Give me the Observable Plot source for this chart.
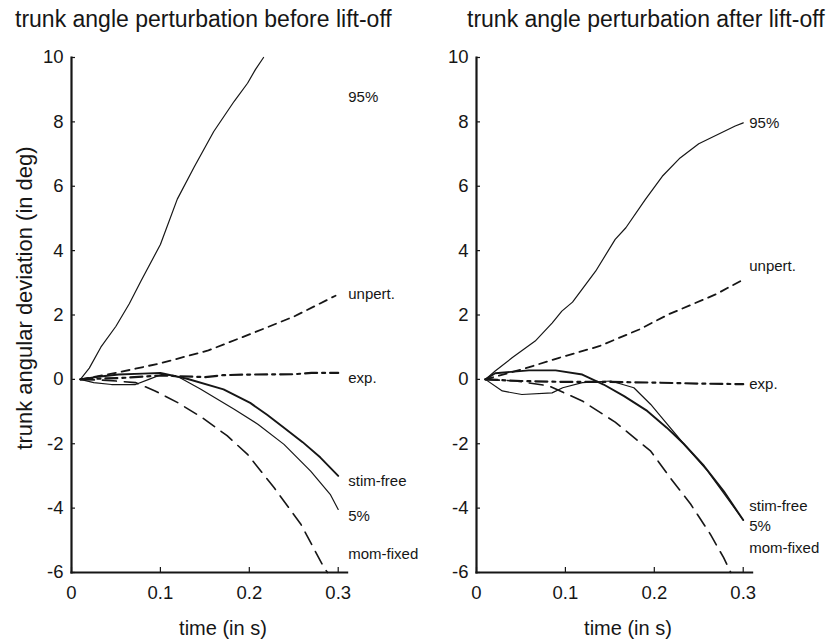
<!DOCTYPE html>
<html><head><meta charset="utf-8">
<script src="https://cdn.jsdelivr.net/npm/d3@7"></script>
<script src="https://cdn.jsdelivr.net/npm/@observablehq/plot@0.6"></script>
<style>
body{margin:0;background:#fff;}
#wrap{position:relative;width:835px;height:644px;overflow:hidden;background:#fff;font-family:"Liberation Sans",Arial,Helvetica,sans-serif;color:#161616;}
#wrap > svg{position:absolute;top:0;left:0;}
.t{position:absolute;white-space:nowrap;line-height:1;}
</style></head><body><div id="wrap"></div>
<script>
// ---- data ----
const seriesNames = ["95%", "unpert.", "exp.", "stim-free", "5%", "mom-fixed"];
const panels = ["before", "after"];
const xTicks = [0, 0.1, 0.2, 0.3];
const yTicks = [-6, -4, -2, 0, 2, 4, 6, 8, 10];
const xDomain = [0, 0.31];
const yDomain = [-6, 10];
const panelTitles = ["trunk angle perturbation before lift-off", "trunk angle perturbation after lift-off"];
const xLabel = "time (in s)";
const yLabel = "trunk angular deviation (in deg)";

// before lift-off: [time, deviation]
const before95 = [[0.01,0],[0.02,0.35],[0.033,1.0],[0.05,1.65],[0.065,2.35],[0.078,3.05],[0.1,4.19],[0.119,5.6],[0.138,6.6],[0.16,7.7],[0.183,8.64],[0.198,9.2],[0.207,9.63],[0.216,10]];
const beforeUnpert = [[0.01,0],[0.05,0.2],[0.1,0.5],[0.154,0.9],[0.205,1.45],[0.25,1.95],[0.297,2.6]];
const beforeExp = [[0.01,0],[0.06,0.05],[0.1,0.12],[0.15,0.07],[0.17,0.13],[0.2,0.15],[0.25,0.16],[0.27,0.2],[0.3,0.2]];
const beforeStim = [[0.01,0],[0.03,0.08],[0.053,0.15],[0.08,0.18],[0.1,0.2],[0.13,0.02],[0.171,-0.31],[0.201,-0.73],[0.22,-1.1],[0.239,-1.5],[0.26,-1.95],[0.28,-2.43],[0.3,-3.0]];
const before5 = [[0.01,0],[0.025,-0.1],[0.045,-0.16],[0.072,-0.16],[0.087,0],[0.102,0.16],[0.12,0.08],[0.145,-0.3],[0.183,-0.93],[0.21,-1.4],[0.239,-2.02],[0.269,-2.85],[0.291,-3.57],[0.3,-4.04]];
const beforeMom = [[0.01,0],[0.04,-0.03],[0.072,-0.1],[0.094,-0.36],[0.12,-0.73],[0.147,-1.19],[0.175,-1.75],[0.198,-2.33],[0.228,-3.37],[0.258,-4.5],[0.284,-5.85],[0.288,-6]];
const beforeLabelValues = [8.77, 2.65, 0.04, -3.16, -4.24, -5.42];

// after lift-off
const after95 = [[0.01,0],[0.021,0.26],[0.04,0.67],[0.066,1.19],[0.085,1.75],[0.096,2.12],[0.108,2.4],[0.134,3.36],[0.156,4.35],[0.168,4.71],[0.19,5.59],[0.209,6.31],[0.229,6.88],[0.25,7.32],[0.291,7.87],[0.3,7.97]];
const afterUnpert = [[0.01,0],[0.051,0.31],[0.093,0.67],[0.138,1.03],[0.183,1.55],[0.216,2.02],[0.269,2.64],[0.3,3.1]];
const afterExp = [[0.01,0],[0.05,-0.05],[0.1,-0.08],[0.15,-0.08],[0.2,-0.1],[0.25,-0.13],[0.3,-0.15]];
const afterStim = [[0.01,0],[0.021,0.19],[0.059,0.28],[0.089,0.28],[0.119,0.15],[0.143,-0.16],[0.166,-0.52],[0.192,-0.98],[0.214,-1.5],[0.233,-2.0],[0.256,-2.69],[0.278,-3.47],[0.3,-4.37]];
const after5 = [[0.01,0],[0.029,-0.36],[0.051,-0.47],[0.085,-0.42],[0.097,-0.26],[0.119,-0.1],[0.151,-0.05],[0.177,-0.26],[0.196,-0.78],[0.207,-1.14],[0.233,-2.0],[0.26,-2.85],[0.3,-4.37]];
const afterMom = [[0.01,0],[0.044,-0.05],[0.081,-0.2],[0.119,-0.67],[0.156,-1.33],[0.196,-2.23],[0.218,-3.06],[0.241,-3.88],[0.263,-4.81],[0.278,-5.54],[0.286,-6]];
const afterLabelValues = [7.97, 3.53, -0.15, -3.93, -4.55, -5.23];

// ---- styles ----
const INK = "#161616";
const FONT = "'Liberation Sans', Arial, Helvetica, sans-serif";
const lineStyle = {
  "95%": {strokeWidth: 1.2},
  "unpert.": {strokeWidth: 1.8, strokeDasharray: "8,6"},
  "exp.": {strokeWidth: 2.2, strokeDasharray: "12,5,3,5"},
  "stim-free": {strokeWidth: 1.9},
  "5%": {strokeWidth: 1.2},
  "mom-fixed": {strokeWidth: 1.6, strokeDasharray: "14,8"}
};

const beforeSeries = [before95, beforeUnpert, beforeExp, beforeStim, before5, beforeMom];
const afterSeries = [after95, afterUnpert, afterExp, afterStim, after5, afterMom];
const toRows = (pairs, panel) => pairs.map(([t, v]) => ({panel, t, v}));

const marks = [];
// axis lines along the scale domains (drawn as paths), repeated in both panels
const yAxisLine = yDomain.map(v => ({t: xDomain[0], v}));
const xAxisLine = xDomain.map(t => ({t, v: yDomain[0]}));
marks.push(Plot.line(yAxisLine, {x: "t", y: "v", stroke: INK, strokeWidth: 2.2, strokeLinecap: "square"}));
marks.push(Plot.line(xAxisLine, {x: "t", y: "v", stroke: INK, strokeWidth: 2.2, strokeLinecap: "square"}));

seriesNames.forEach((name, i) => {
  const rows = [...toRows(beforeSeries[i], "before"), ...toRows(afterSeries[i], "after")];
  marks.push(Plot.line(rows, {fx: "panel", x: "t", y: "v", z: "panel", stroke: INK, strokeLinejoin: "round", ...lineStyle[name]}));
});
const tEnd = xTicks[xTicks.length - 1];
const beforeLabels = seriesNames.map((name, i) => ({panel: "before", name, t: tEnd, v: beforeLabelValues[i]}));
const afterLabels = seriesNames.map((name, i) => ({panel: "after", name, t: tEnd, v: afterLabelValues[i]}));
marks.push(Plot.text(beforeLabels, {fx: "panel", x: "t", y: "v", text: "name", textAnchor: "start", dx: 10, fontSize: 15, fill: INK}));
marks.push(Plot.text(afterLabels, {fx: "panel", x: "t", y: "v", text: "name", textAnchor: "start", dx: 6, fontSize: 15, fill: INK}));
const yAxisOpts = {anchor: "left", tickSize: -4, tickPadding: 12, fontSize: 18.5, stroke: INK, strokeWidth: 1.2, fill: INK, label: null, tickFormat: d => String(d)};
marks.push(Plot.axisY(yTicks, {...yAxisOpts, facetAnchor: "left"}));
marks.push(Plot.axisY(yTicks, {...yAxisOpts, facetAnchor: "right"}));
marks.push(Plot.axisX(xTicks, {tickSize: -5, tickPadding: 18, fontSize: 18.5, stroke: INK, strokeWidth: 1.2, fill: INK, label: null, tickFormat: d => String(d)}));

const chart = Plot.plot({
  width: 835, height: 644,
  marginLeft: 71, marginRight: 83.4, marginTop: 57, marginBottom: 72,
  fx: {domain: panels, axis: null, paddingInner: 0.3195, paddingOuter: 0, round: false},
  x: {domain: xDomain},
  y: {domain: yDomain},
  style: {fontFamily: FONT, background: "transparent", overflow: "visible", color: INK},
  marks
});

const wrap = document.getElementById("wrap");
wrap.appendChild(chart);
function addText(txt, size, css) {
  const d = document.createElement("div");
  d.className = "t";
  d.style.fontSize = size + "px";
  Object.assign(d.style, css);
  d.textContent = txt;
  wrap.appendChild(d);
}
// titles and axis labels (baseline ≈ top + 0.8465 * size)
addText(panelTitles[0], 23, {left: "15px", top: (27 - 0.8465 * 23) + "px"});
addText(panelTitles[1], 23, {left: "467px", top: (27 - 0.8465 * 23) + "px"});
addText(xLabel, 20, {left: "223px", top: (635 - 0.8465 * 20) + "px", transform: "translateX(-50%)"});
addText(xLabel, 20, {left: "628px", top: (635 - 0.8465 * 20) + "px", transform: "translateX(-50%)"});
addText(yLabel, 22, {left: (33 - 0.3465 * 22) + "px", top: "298px", transform: "translate(-50%,-50%) rotate(-90deg)"});
</script>
</body></html>
